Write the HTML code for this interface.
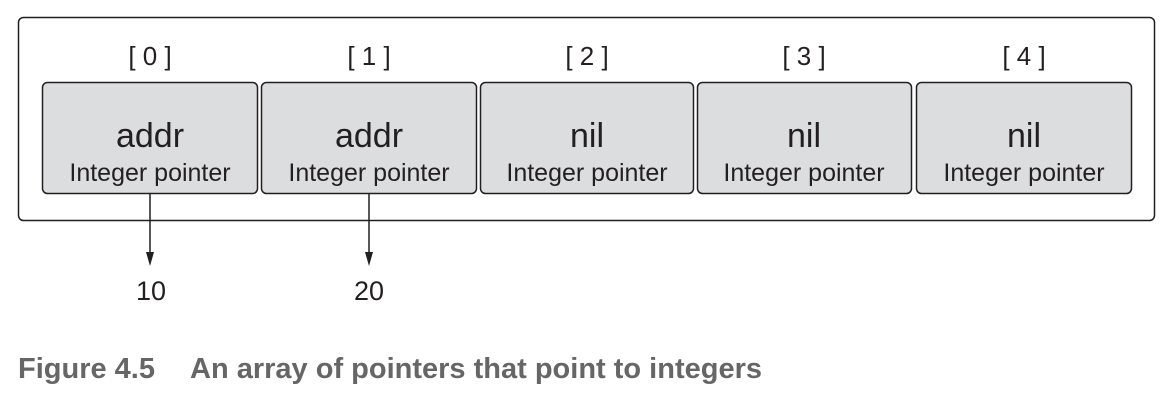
<!DOCTYPE html>
<html><head><style>
body{margin:0;background:#fff;width:1176px;height:402px;overflow:hidden}
</style></head><body>
<svg width="1176" height="402" xmlns="http://www.w3.org/2000/svg" font-family="Liberation Sans, sans-serif">
<rect x="18.5" y="17.5" width="1136" height="203" rx="5" fill="#fff" stroke="#231f20" stroke-width="1.5"/>
<g fill="#dcdddf" stroke="#231f20" stroke-width="1.5">
<rect x="42.5" y="82.5" width="215" height="111" rx="5"/>
<rect x="261.5" y="82.5" width="215" height="111" rx="5"/>
<rect x="480.5" y="82.5" width="213" height="111" rx="5"/>
<rect x="697.5" y="82.5" width="214" height="111" rx="5"/>
<rect x="916.5" y="82.5" width="215" height="111" rx="5"/>
</g>
<g fill="#231f20" text-anchor="middle">
<g font-size="26"><text x="150" y="65">[ 0 ]</text><text x="369" y="65">[ 1 ]</text><text x="587" y="65">[ 2 ]</text><text x="804" y="65">[ 3 ]</text><text x="1024" y="65">[ 4 ]</text></g>
<g font-size="34"><text x="150" y="147">addr</text><text x="369" y="147">addr</text><text x="587" y="147">nil</text><text x="804" y="147">nil</text><text x="1024" y="147">nil</text></g>
<g font-size="25"><text x="150" y="181">Integer pointer</text><text x="369" y="181">Integer pointer</text><text x="587" y="181">Integer pointer</text><text x="804" y="181">Integer pointer</text><text x="1024" y="181">Integer pointer</text></g>
<g font-size="27"><text x="151" y="300">10</text><text x="369" y="300">20</text></g>
</g>
<g stroke="#231f20" stroke-width="1.5"><line x1="150" y1="194" x2="150" y2="255"/><line x1="369" y1="194" x2="369" y2="255"/></g>
<g fill="#231f20"><polygon points="146,252 154,252 150,266"/><polygon points="365,252 373,252 369,266"/></g>
<text x="18" y="378" font-size="29" font-weight="bold" fill="#666" font-family="Liberation Sans, sans-serif">Figure 4.5<tspan x="190">An array of pointers that point to integers</tspan></text>
</svg>
</body></html>
